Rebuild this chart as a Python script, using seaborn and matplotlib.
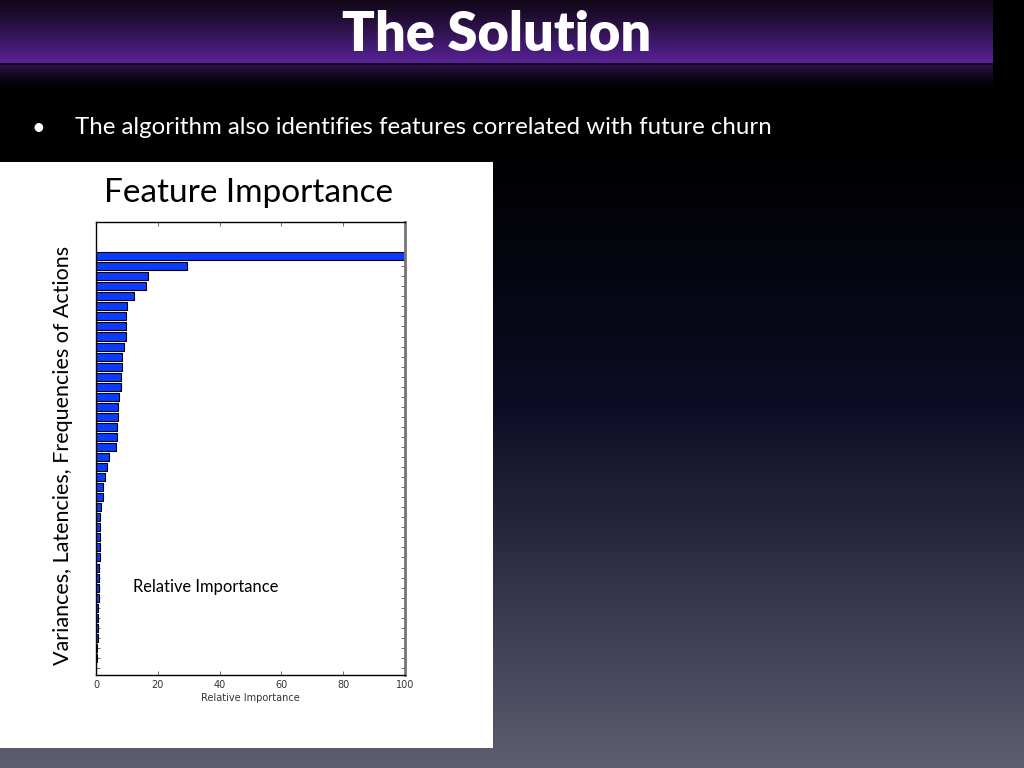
import matplotlib
matplotlib.use('Agg')
import matplotlib.pyplot as plt
import numpy as np
import pandas as pd
import seaborn as sns

# relative importance of the 42 features, largest first
importance = [100, 29.3, 16.9, 16.3, 12.4, 10.1, 9.8, 9.8, 9.8, 9.2,
              8.5, 8.5, 8.1, 8.1, 7.5, 7.2, 7.2, 6.9, 6.9, 6.5,
              4.2, 3.4, 2.8, 2.2, 2.2, 1.7, 1.4, 1.4, 1.4, 1.4,
              1.4, 1.1, 0.9, 0.9, 0.9, 0.6, 0.6, 0.6, 0.5, 0.3,
              0.2, 0.1]
features = ['f%d' % (i + 1) for i in range(len(importance))]
xticks = [0, 20, 40, 60, 80, 100]

slide_title = 'The Solution'
bullet_text = 'The algorithm also identifies features correlated with future churn'
chart_title = 'Feature Importance'
ylabel_text = 'Variances, Latencies, Frequencies of Actions'
overlay_text = 'Relative Importance'

sns.set_style('white')
plt.rcParams['font.family'] = ['Lato', 'DejaVu Sans']

fig = plt.figure(figsize=(10.24, 7.68), dpi=100)

# slide background: black at top fading to grey-blue at the bottom
bg = fig.add_axes([0, 0, 1, 1])
t = np.linspace(0, 1, 400)
top = np.array([0, 0, 0])
mid = np.array([0.05, 0.05, 0.15])
bot = np.array([0.37, 0.37, 0.45])
img = np.zeros((400, 1, 3))
for i in range(400):
    r = np.clip((t[i] - 0.15) / 0.85, 0, 1) ** 1.3
    if r < 0.35:
        img[i, 0] = top + (mid - top) * (r / 0.35)
    else:
        img[i, 0] = mid + (bot - mid) * ((r - 0.35) / 0.65)
bg.imshow(img, aspect='auto', extent=[0, 1, 0, 1], origin='upper')
bg.set_xlim(0, 1)
bg.set_ylim(0, 1)
bg.axis('off')

# purple title banner
ban = fig.add_axes([0, 1 - 65 / 768, 993 / 1024, 65 / 768])
bimg = np.zeros((100, 1, 3))
c0 = np.array([0.07, 0.03, 0.10])
c1 = np.array([0.36, 0.14, 0.62])
for i in range(100):
    bimg[i, 0] = c0 + (c1 - c0) * (i / 99.0) ** 1.2
ban.imshow(bimg, aspect='auto', extent=[0, 1, 0, 1], origin='upper')
ban.axhline(0.01, color='#10061c', linewidth=1.5)
ban.axis('off')

# soft purple glow fading out just under the banner
glow = fig.add_axes([0, 1 - 95 / 768, 993 / 1024, 30 / 768])
gimg = np.zeros((50, 1, 3))
g0 = np.array([0.17, 0.07, 0.28])
for i in range(50):
    gimg[i, 0] = g0 * (1 - i / 49.0) ** 2
glow.imshow(gimg, aspect='auto', extent=[0, 1, 0, 1], origin='upper')
glow.axis('off')

fig.text(497 / 1024, 1 - 35 / 768, slide_title, color='white', fontsize=39,
         fontweight='heavy', ha='center', va='center')

# bullet line
fig.text(38 / 1024, 1 - 129 / 768, u'\u2022', color='white', fontsize=17,
         ha='center', va='center')
fig.text(75 / 1024, 1 - 128 / 768, bullet_text, color='white', fontsize=17.3,
         ha='left', va='center')

# white panel holding the chart
panel = plt.Rectangle((0, 20 / 768), 493 / 1024, 586 / 768, transform=fig.transFigure,
                      facecolor='white', edgecolor='none', zorder=1)
fig.patches.append(panel)

ax = fig.add_axes([96 / 1024, 93 / 768, 309 / 1024, 453 / 768])
ax.set_zorder(2)
df = pd.DataFrame({'feature': features, 'importance': importance})
sns.barplot(data=df, x='importance', y='feature', orient='h', color='#0a3cff',
            saturation=1, edgecolor='black', linewidth=0.8, width=0.8, ax=ax)
ax.set_xlim(0, 100)
ax.set_ylim(len(importance) - 0.3, -3.4)
ax.set_xticks(xticks)
ax.set_xticklabels([str(v) for v in xticks], family='DejaVu Sans', fontsize=7, color='#333333')
ax.set_yticklabels([])
ax.tick_params(direction='in', top=True, right=True, left=True, bottom=True,
               length=3, width=0.6, color='#555555')
ax.set_xlabel('Relative Importance', family='DejaVu Sans', fontsize=7, color='#333333', labelpad=2)
ax.set_ylabel('')
for side in ['top', 'left', 'bottom']:
    ax.spines[side].set_color('black')
    ax.spines[side].set_linewidth(1)
ax.spines['right'].set_color('#777777')
ax.spines['right'].set_linewidth(2)

# overlay texts placed on the slide
fig.text(248 / 1024, 1 - 193 / 768, chart_title, color='black', fontsize=24,
         ha='center', va='center', zorder=5)
fig.text(63 / 1024, 1 - 455 / 768, ylabel_text, color='black', fontsize=15.5,
         rotation=90, ha='center', va='center', zorder=5)
fig.text(133 / 1024, 1 - 587 / 768, overlay_text, color='black', fontsize=11.9,
         ha='left', va='center', zorder=5)

fig.savefig('out.png', dpi=100)
